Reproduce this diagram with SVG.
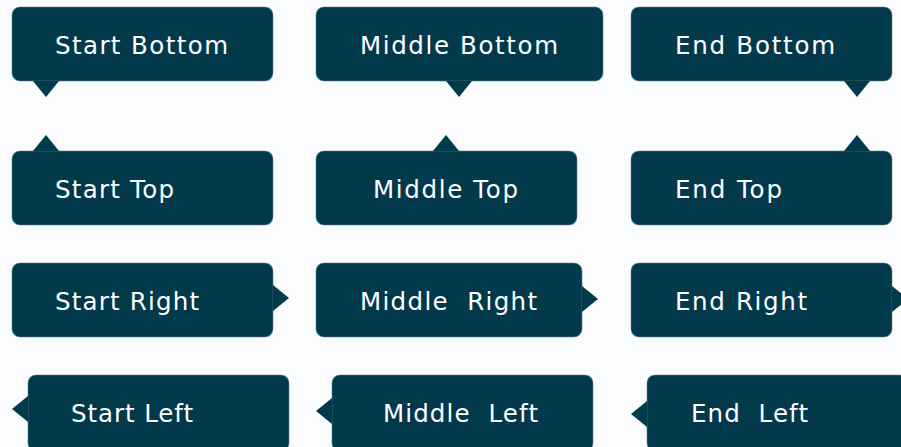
<svg xmlns="http://www.w3.org/2000/svg" width="901" height="447" viewBox="0 0 901 447">
<defs>
<style>
.box{fill:#023a4c;stroke:#5f8190;stroke-width:0.6}
.tip{fill:#023a4c}
.lbl{fill:#ffffff;font-family:"DejaVu Sans","Liberation Sans",sans-serif;font-size:24.5px;font-weight:400}
</style>
</defs>
<rect width="901" height="447" fill="#fbfcfd"/>
<g id="start-bottom">
<rect class="box" x="12" y="7" width="261" height="74" rx="8"/>
<polygon class="tip" points="33,81 59,81 46,97"/>
<text class="lbl" x="55" y="54" textLength="173" lengthAdjust="spacing">Start Bottom</text>
</g>
<g id="middle-bottom">
<rect class="box" x="316" y="7" width="287" height="74" rx="8"/>
<polygon class="tip" points="446,81 472,81 459,97"/>
<text class="lbl" x="360" y="54" textLength="198" lengthAdjust="spacing">Middle Bottom</text>
</g>
<g id="end-bottom">
<rect class="box" x="631" y="7" width="261" height="74" rx="8"/>
<polygon class="tip" points="844,81 870,81 857,97"/>
<text class="lbl" x="675" y="54" textLength="160" lengthAdjust="spacing">End Bottom</text>
</g>
<g id="start-top">
<rect class="box" x="12" y="151" width="261" height="74" rx="8"/>
<polygon class="tip" points="33,151 59,151 46,135"/>
<text class="lbl" x="55" y="198" textLength="119" lengthAdjust="spacing">Start Top</text>
</g>
<g id="middle-top">
<rect class="box" x="316" y="151" width="261" height="74" rx="8"/>
<polygon class="tip" points="433,151 459,151 446,135"/>
<text class="lbl" x="373" y="198" textLength="145" lengthAdjust="spacing">Middle Top</text>
</g>
<g id="end-top">
<rect class="box" x="631" y="151" width="261" height="74" rx="8"/>
<polygon class="tip" points="844,151 870,151 857,135"/>
<text class="lbl" x="675" y="198" textLength="107" lengthAdjust="spacing">End Top</text>
</g>
<g id="start-right">
<rect class="box" x="12" y="263" width="261" height="74" rx="8"/>
<polygon class="tip" points="273,285 273,311 289,298"/>
<text class="lbl" x="55" y="310" textLength="144" lengthAdjust="spacing">Start Right</text>
</g>
<g id="middle-right">
<rect class="box" x="316" y="263" width="266" height="74" rx="8"/>
<polygon class="tip" points="582,286 582,312 598,299"/>
<text class="lbl" x="360" y="310" textLength="177" lengthAdjust="spacing" xml:space="preserve">Middle  Right</text>
</g>
<g id="end-right">
<rect class="box" x="631" y="263" width="261" height="74" rx="8"/>
<polygon class="tip" points="892,286 892,312 908,299"/>
<text class="lbl" x="675" y="310" textLength="132" lengthAdjust="spacing">End Right</text>
</g>
<g id="start-left">
<rect class="box" x="28" y="375" width="261" height="76" rx="8"/>
<polygon class="tip" points="28,396 28,422 12,409"/>
<text class="lbl" x="71" y="422" textLength="122" lengthAdjust="spacing">Start Left</text>
</g>
<g id="middle-left">
<rect class="box" x="332" y="375" width="261" height="76" rx="8"/>
<polygon class="tip" points="332,398 332,424 316,411"/>
<text class="lbl" x="383" y="422" textLength="155" lengthAdjust="spacing" xml:space="preserve">Middle  Left</text>
</g>
<g id="end-left">
<rect class="box" x="647" y="375" width="261" height="76" rx="8"/>
<polygon class="tip" points="647,401 647,427 631,414"/>
<text class="lbl" x="691" y="422" textLength="117" lengthAdjust="spacing" xml:space="preserve">End  Left</text>
</g>
<g id="connectors"/>
</svg>
